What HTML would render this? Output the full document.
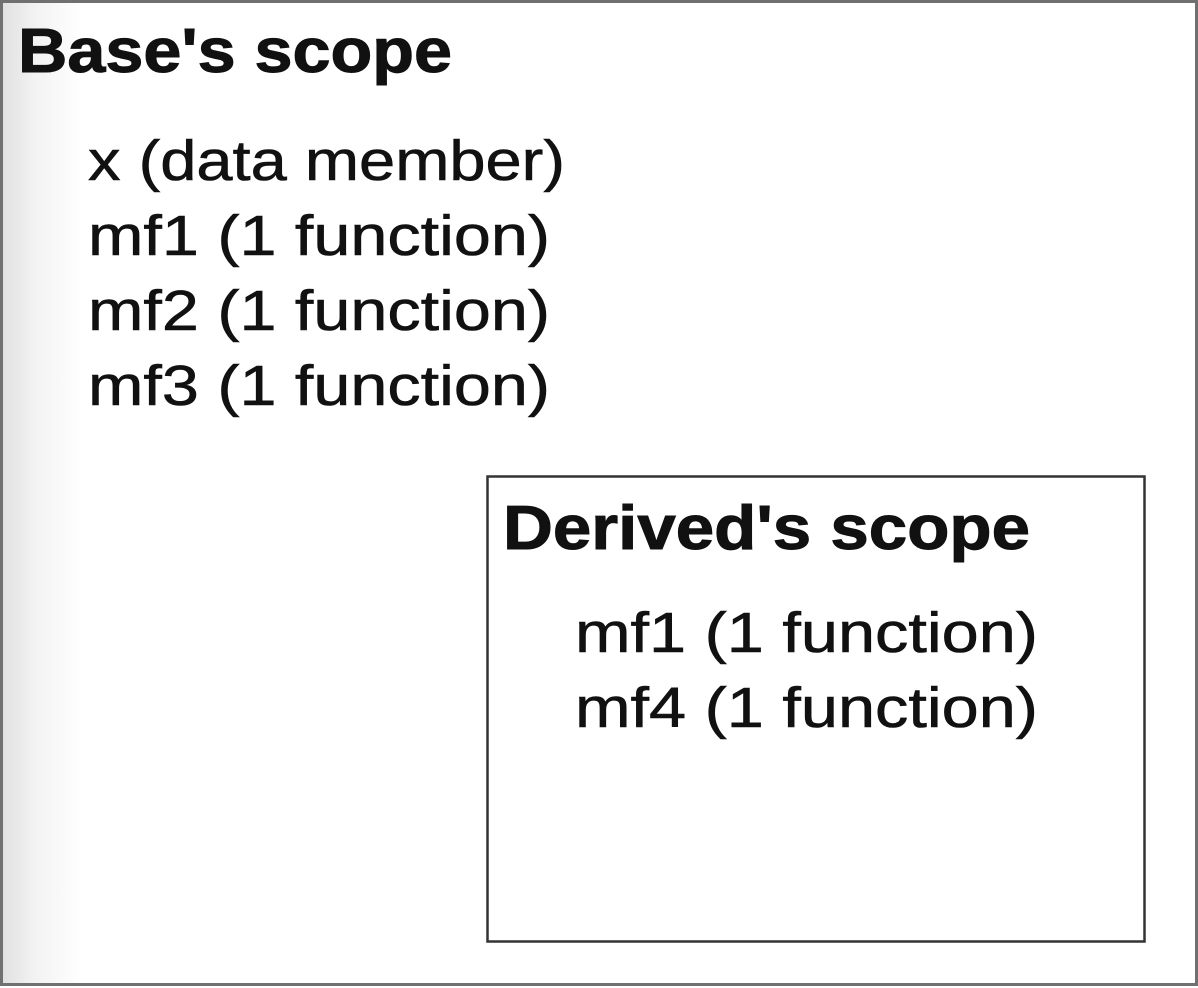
<!DOCTYPE html>
<html><head><meta charset="utf-8"><style>
html,body{margin:0;padding:0;background:#fff;}
svg{display:block;}
</style></head><body>
<svg width="1198" height="988" viewBox="0 0 1198 988">
<defs>
<linearGradient id="lg" x1="0" x2="1" y1="0" y2="0">
<stop offset="0" stop-color="#e0e0e0"/><stop offset="0.4" stop-color="#f2f2f2"/><stop offset="1" stop-color="#ffffff"/>
</linearGradient>
</defs>
<rect x="0" y="0" width="1198" height="988" fill="#fff"/>
<rect x="2" y="2" width="80" height="982" fill="url(#lg)"/>
<rect x="1.5" y="1.5" width="1195" height="983" fill="none" stroke="#707070" stroke-width="3"/>
<g font-family="Liberation Sans, sans-serif" fill="#111">
<text x="18" y="72" font-size="62" font-weight="bold" stroke="#111" stroke-width="1" textLength="434" lengthAdjust="spacingAndGlyphs">Base's scope</text>
<text x="88" y="180" font-size="57" stroke="#111" stroke-width="0.6" textLength="477" lengthAdjust="spacingAndGlyphs">x (data member)</text>
<text x="88" y="255" font-size="57" stroke="#111" stroke-width="0.6" textLength="462" lengthAdjust="spacingAndGlyphs">mf1 (1 function)</text>
<text x="88" y="330" font-size="57" stroke="#111" stroke-width="0.6" textLength="462" lengthAdjust="spacingAndGlyphs">mf2 (1 function)</text>
<text x="88" y="405" font-size="57" stroke="#111" stroke-width="0.6" textLength="462" lengthAdjust="spacingAndGlyphs">mf3 (1 function)</text>
</g>
<rect x="487.5" y="476.5" width="657" height="465" fill="#fff" stroke="#333" stroke-width="2.5"/>
<g font-family="Liberation Sans, sans-serif" fill="#111">
<text x="503" y="549" font-size="62" font-weight="bold" stroke="#111" stroke-width="1" textLength="527" lengthAdjust="spacingAndGlyphs">Derived's scope</text>
<text x="575" y="652" font-size="57" stroke="#111" stroke-width="0.6" textLength="463" lengthAdjust="spacingAndGlyphs">mf1 (1 function)</text>
<text x="575" y="727" font-size="57" stroke="#111" stroke-width="0.6" textLength="463" lengthAdjust="spacingAndGlyphs">mf4 (1 function)</text>
</g>
</svg>
</body></html>
